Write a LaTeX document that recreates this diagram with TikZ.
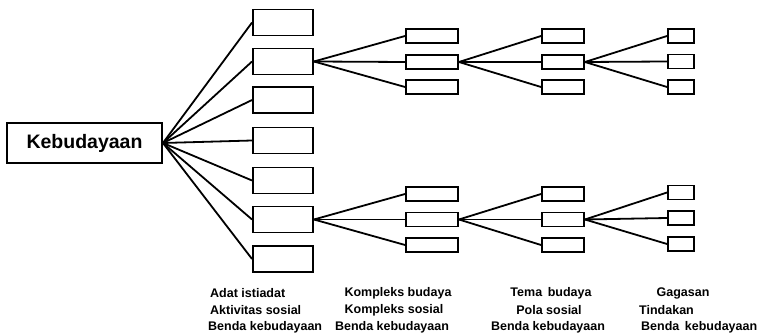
\documentclass[tikz,border=0pt]{standalone}
\usepackage{fontspec}
\setmainfont{Liberation Sans}
\begin{document}
\begin{tikzpicture}[x=1pt,y=-1pt,
  bx/.style={draw,line width=1.9pt,inner sep=0pt,fill=white},
  c1/.style={bx,minimum width=60pt,minimum height=26pt},
  c2/.style={bx,minimum width=52pt,minimum height=14pt},
  c3/.style={bx,minimum width=42pt,minimum height=14pt},
  c4/.style={bx,minimum width=26pt,minimum height=14pt},
  ln/.style={line width=1.8pt},
  lbl/.style={font=\bfseries\fontsize{12.5}{13}\selectfont,inner sep=0pt},
]
\useasboundingbox (0,0) rectangle (760,336);
\node[bx,minimum width=155pt,minimum height=40pt,font=\bfseries\fontsize{19.5}{22}\selectfont] (keb) at (84.5,143) {Kebudayaan};
% column 1
\node[c1] (a1) at (283,22.5) {};
\node[c1] (a2) at (283,61.5) {};
\node[c1] (a3) at (283,100) {};
\node[c1] (a4) at (283,140.5) {};
\node[c1] (a5) at (283,180.5) {};
\node[c1] (a6) at (283,219.5) {};
\node[c1] (a7) at (283,259) {};
\foreach \i in {1,...,7}{\draw[ln] (keb.east) -- (a\i.west);}
% upper branch
\node[c2] (b1) at (432,36) {};
\node[c2] (b2) at (432,62) {};
\node[c2] (b3) at (432,87) {};
\node[c3] (d1) at (563,36) {};
\node[c3] (d2) at (563,62) {};
\node[c3] (d3) at (563,87) {};
\node[c4] (e1) at (681,36) {};
\node[c4] (e2) at (681,61.5) {};
\node[c4] (e3) at (681,87) {};
\foreach \i in {1,2,3}{
  \draw[ln] (a2.east) -- (b\i.west);
  \draw[ln] (b2.east) -- (d\i.west);
  \draw[ln] (d2.east) -- (e\i.west);
}
% lower branch
\node[c2] (f1) at (432,194) {};
\node[c2] (f2) at (432,219.5) {};
\node[c2] (f3) at (432,245) {};
\node[c3] (g1) at (563,194) {};
\node[c3] (g2) at (563,219.5) {};
\node[c3] (g3) at (563,245) {};
\node[c4] (h1) at (681,192.5) {};
\node[c4] (h2) at (681,218) {};
\node[c4] (h3) at (681,244) {};
\foreach \i in {1,2,3}{
  \draw[ln] (a6.east) -- (f\i.west);
  \draw[ln] (f2.east) -- (g\i.west);
  \draw[ln] (g2.east) -- (h\i.west);
}
% labels
\node[lbl,anchor=west] (t11) at (210,293) {Adat istiadat};
\node[lbl,anchor=west] (t12) at (210,310) {Aktivitas sosial};
\node[lbl,anchor=west] (t13) at (208,327) {Benda kebudayaan};
\node[lbl] (t21) at (398,293) {Kompleks budaya};
\node[lbl] (t22) at (394,310) {Kompleks sosial};
\node[lbl] (t23) at (392,327) {Benda kebudayaan};
\node[lbl] (t31) at (551,293) {Tema\, budaya};
\node[lbl] (t32) at (549,310) {Pola sosial};
\node[lbl] (t33) at (548,327) {Benda kebudayaan};
\node[lbl] (t41) at (683,293) {Gagasan};
\node[lbl,anchor=west] (t42) at (639,310) {Tindakan};
\node[lbl,anchor=west] (t43) at (641,327) {Benda\, kebudayaan};
\end{tikzpicture}
\end{document}
